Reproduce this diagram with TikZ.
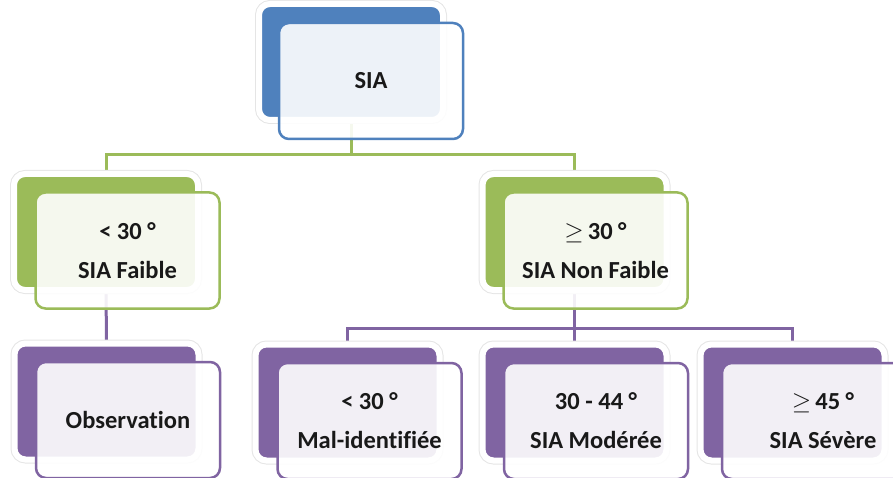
\documentclass[tikz,border=0pt]{standalone}
\usepackage{fontspec}
\setmainfont[Ligatures=NoCommon]{Carlito}
\usetikzlibrary{backgrounds}
\definecolor{cblue}{RGB}{79,129,189}
\definecolor{cgreen}{RGB}{155,187,89}
\definecolor{cpurple}{RGB}{128,100,162}
\tikzset{
  backbox/.style={rectangle, rounded corners=11pt, minimum width=184pt, minimum height=116pt,
    fill=#1, draw=white, line width=6pt,
    preaction={draw=black!10, line width=8pt}},
  frontbox/.style={rectangle, rounded corners=10pt, minimum width=184pt, minimum height=116pt,
    fill=white, fill opacity=0.9, text opacity=1, draw=#1, line width=2.5pt,
    align=center, font=\bfseries\fontsize{24.5}{39}\selectfont, text=black!90},
  link/.style={draw=#1, line width=3pt},
}
\begin{document}
\begin{tikzpicture}[x=1pt,y=-1pt]
\useasboundingbox (0,0) rectangle (893,478);
% level 0
\node[backbox=cblue] (siaB) at (351,62) {};
\node[frontbox=cblue] (sia) at (371,81) {SIA};
% level 1
\node[backbox=cgreen] (faibleB) at (106,232) {};
\node[frontbox=cgreen] (faible) at (127.5,250.5) {< 30 °\\SIA Faible};
\node[backbox=cgreen] (nfB) at (574.5,232) {};
\node[frontbox=cgreen] (nf) at (595.5,250.5) {$\geq$\,30 °\\SIA Non Faible};
% level 2
\node[backbox=cpurple] (obsB) at (106.5,401.5) {};
\node[frontbox=cpurple] (obs) at (128,420) {Observation};
\node[backbox=cpurple] (malB) at (347.5,402.5) {};
\node[frontbox=cpurple] (mal) at (369.5,421) {< 30 °\\Mal-identifiée};
\node[backbox=cpurple] (modB) at (574.5,402.5) {};
\node[frontbox=cpurple] (mod) at (596,421) {30 - 44 °\\SIA Modérée};
\node[backbox=cpurple] (sevB) at (792.5,402.5) {};
\node[frontbox=cpurple, minimum width=202pt] (sev) at (823,421) {$\geq$\,45 °\\SIA Sévère};
% connectors
\coordinate (j1) at (351,155);
\coordinate (j2) at (574.5,328);
\begin{scope}[on background layer]
\draw[link=cgreen] (siaB.center) -- (j1);
\draw[link=cgreen] (faibleB.center) |- (j1) -| (nfB.center);
\draw[link=cpurple] (faibleB.center) -- (obsB.center);
\draw[link=cpurple] (nfB.center) -- (j2);
\draw[link=cpurple] (malB.center) |- (j2) -| (sevB.center);
\draw[link=cpurple] (j2) -- (modB.center);
\end{scope}
\end{tikzpicture}
\end{document}
